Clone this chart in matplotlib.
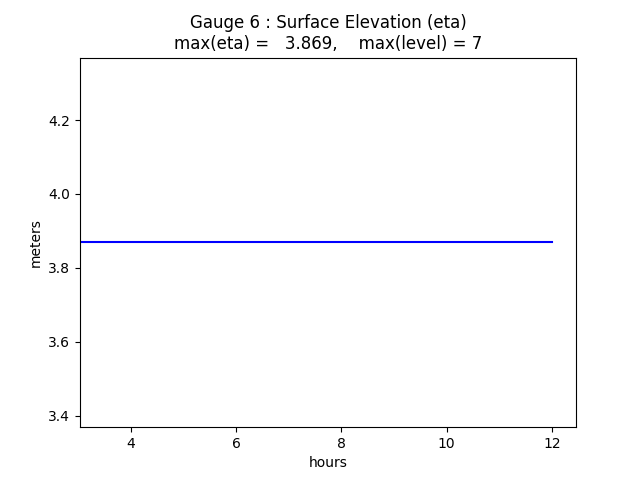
import matplotlib
matplotlib.use("Agg")
import matplotlib.pyplot as plt

# gauge time series (hours, meters)
hours = [3.0, 12.0]
eta = [3.869, 3.869]
gauge_no = 6
max_level = 7

fig, ax = plt.subplots(figsize=(6.4, 4.8), dpi=100)
ax.plot(hours, eta, color="blue")

ax.set_xlim(3.03, 12.46)
ax.set_ylim(eta[0] - 0.5, eta[0] + 0.5)
ax.set_xlabel("hours")
ax.set_ylabel("meters")
ax.set_title(f"Gauge {gauge_no} : Surface Elevation (eta)\n"
             f"max(eta) = {max(eta):7.3f},    max(level) = {max_level}")

fig.savefig("out.png")
